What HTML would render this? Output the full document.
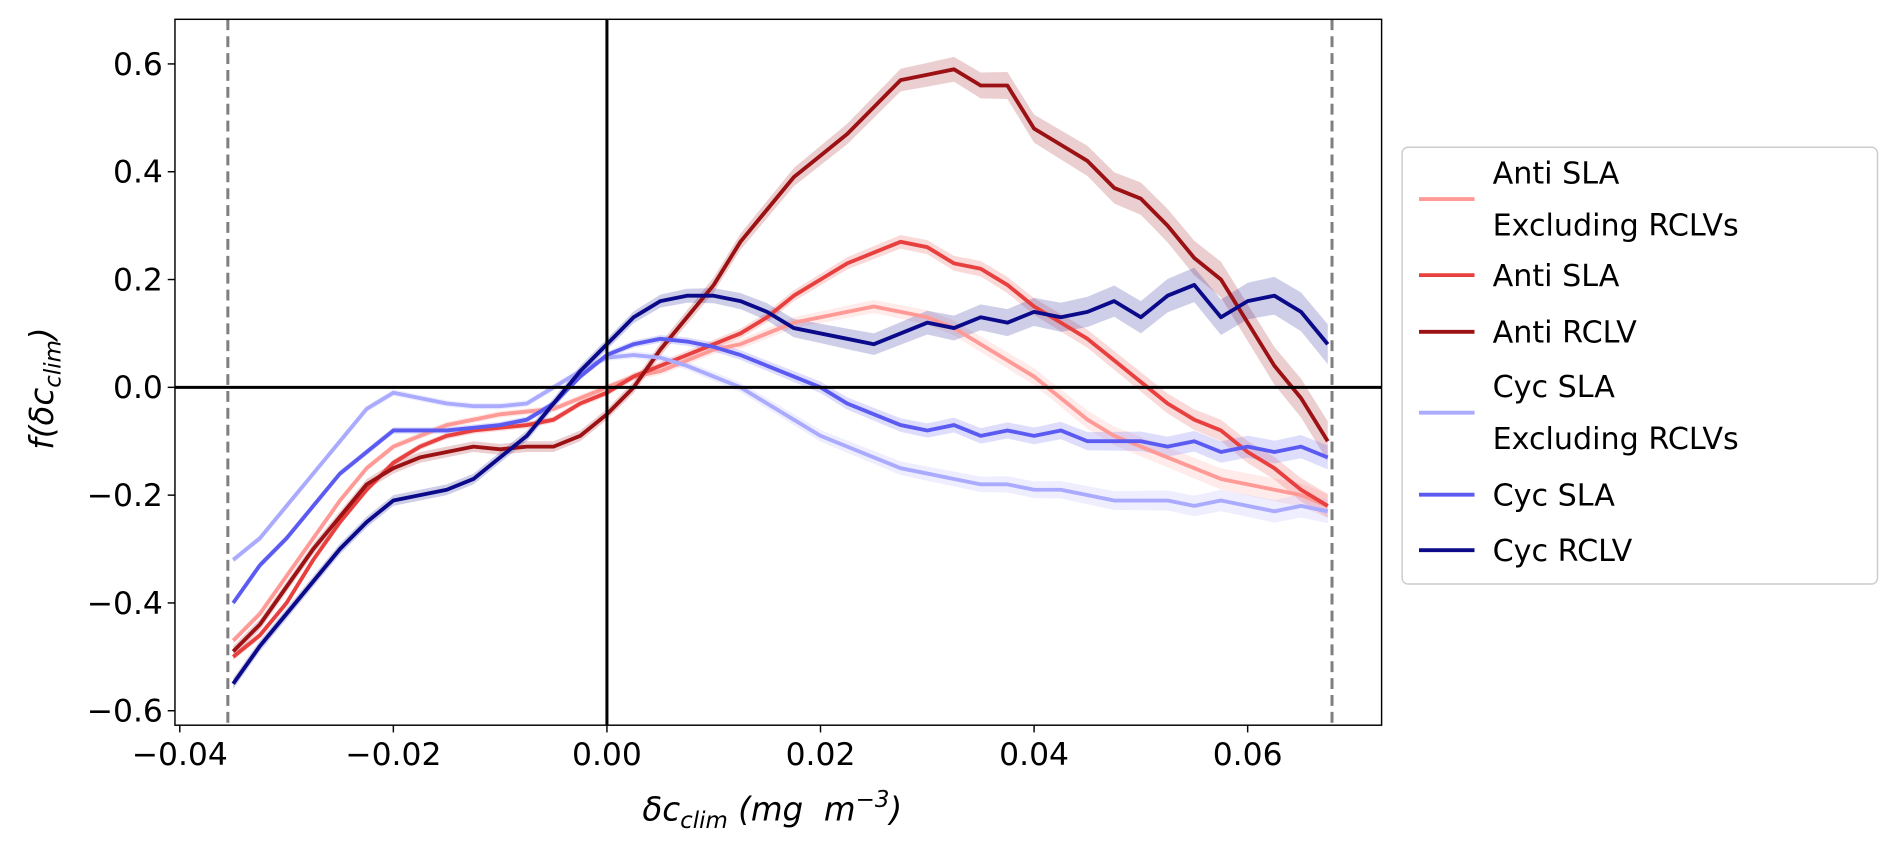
<!DOCTYPE html>
<html><head><meta charset="utf-8"><style>
html,body{margin:0;padding:0;background:#fff}
svg{display:block}
text{font-family:"DejaVu Sans","Liberation Sans",sans-serif;fill:#000}
</style></head><body>
<svg id="chart" width="1892" height="849" viewBox="0 0 1568 703.6" xmlns="http://www.w3.org/2000/svg">
<g id="bands"></g>
<g id="lines"></g>
<g id="axes"></g>
</svg>
<script>
const xs = [-0.035,-0.0325,-0.03,-0.0275,-0.025,-0.0225,-0.02,-0.0175,-0.015,-0.0125,-0.01,-0.0075,-0.005,-0.0025,0,0.0025,0.005,0.0075,0.01,0.0125,0.015,0.0175,0.02,0.0225,0.025,0.0275,0.03,0.0325,0.035,0.0375,0.04,0.0425,0.045,0.0475,0.05,0.0525,0.055,0.0575,0.06,0.0625,0.065,0.0675];
const antiSlaExcl = [-0.47,-0.42,-0.35,-0.28,-0.21,-0.15,-0.11,-0.09,-0.07,-0.06,-0.05,-0.045,-0.04,-0.02,0.0,0.02,0.03,0.05,0.07,0.08,0.10,0.12,0.13,0.14,0.15,0.14,0.13,0.11,0.08,0.05,0.02,-0.02,-0.06,-0.09,-0.11,-0.13,-0.15,-0.17,-0.18,-0.19,-0.20,-0.22];
const antiSla = [-0.50,-0.46,-0.40,-0.32,-0.25,-0.19,-0.14,-0.11,-0.09,-0.08,-0.075,-0.07,-0.06,-0.03,-0.01,0.02,0.04,0.06,0.08,0.10,0.13,0.17,0.20,0.23,0.25,0.27,0.26,0.23,0.22,0.19,0.15,0.12,0.09,0.05,0.01,-0.03,-0.06,-0.08,-0.12,-0.15,-0.19,-0.22];
const antiRclv = [-0.49,-0.44,-0.37,-0.30,-0.24,-0.18,-0.15,-0.13,-0.12,-0.11,-0.115,-0.11,-0.11,-0.09,-0.05,0.0,0.07,0.13,0.19,0.27,0.33,0.39,0.43,0.47,0.52,0.57,0.58,0.59,0.56,0.56,0.48,0.45,0.42,0.37,0.35,0.30,0.24,0.20,0.12,0.04,-0.02,-0.10];
const cycSlaExcl = [-0.32,-0.28,-0.22,-0.16,-0.10,-0.04,-0.01,-0.02,-0.03,-0.035,-0.035,-0.03,0.0,0.03,0.055,0.06,0.055,0.04,0.02,0.0,-0.03,-0.06,-0.09,-0.11,-0.13,-0.15,-0.16,-0.17,-0.18,-0.18,-0.19,-0.19,-0.20,-0.21,-0.21,-0.21,-0.22,-0.21,-0.22,-0.23,-0.22,-0.23];
const cycSla = [-0.40,-0.33,-0.28,-0.22,-0.16,-0.12,-0.08,-0.08,-0.08,-0.075,-0.07,-0.06,-0.03,0.02,0.06,0.08,0.09,0.085,0.075,0.06,0.04,0.02,0.0,-0.03,-0.05,-0.07,-0.08,-0.07,-0.09,-0.08,-0.09,-0.08,-0.10,-0.10,-0.10,-0.11,-0.10,-0.12,-0.11,-0.12,-0.11,-0.13];
const cycRclv = [-0.55,-0.48,-0.42,-0.36,-0.30,-0.25,-0.21,-0.20,-0.19,-0.17,-0.13,-0.09,-0.03,0.03,0.08,0.13,0.16,0.17,0.17,0.16,0.14,0.11,0.10,0.09,0.08,0.10,0.12,0.11,0.13,0.12,0.14,0.13,0.14,0.16,0.13,0.17,0.19,0.13,0.16,0.17,0.14,0.08];
const xTicks = [-0.04,-0.02,0.00,0.02,0.04,0.06];
const xTickLabels = ["\u22120.04","\u22120.02","0.00","0.02","0.04","0.06"];
const yTicks = [-0.6,-0.4,-0.2,0.0,0.2,0.4,0.6];
const yTickLabels = ["\u22120.6","\u22120.4","\u22120.2","0.0","0.2","0.4","0.6"];
const legendLabels = [["Anti SLA"," Excluding RCLVs"],["Anti SLA"],["Anti RCLV"],["Cyc SLA"," Excluding RCLVs"],["Cyc SLA"],["Cyc RCLV"]];

const NS="http://www.w3.org/2000/svg";
const L=145,R=1145,T=16,B=601;
function sx(v){return 503+v*8850;}
function sy(v){return 321-v*446.7;}
function mk(tag,attrs,parent){const e=document.createElementNS(NS,tag);for(const k in attrs)e.setAttribute(k,attrs[k]);parent.appendChild(e);return e;}
const bands=document.getElementById('bands'),lines=document.getElementById('lines'),axes=document.getElementById('axes');
const series=[
 {name:'anti-sla-excluding-rclvs',data:antiSlaExcl,color:'#ff9a96',bw:0.012},
 {name:'anti-sla',data:antiSla,color:'#e8403f',bw:0.012},
 {name:'anti-rclv',data:antiRclv,color:'#9b1114',bw:0.02},
 {name:'cyc-sla-excluding-rclvs',data:cycSlaExcl,color:'#aaaaff',bw:0.012},
 {name:'cyc-sla',data:cycSla,color:'#5b5bf2',bw:0.012},
 {name:'cyc-rclv',data:cycRclv,color:'#0a0a8a',bw:0.02}];
series.forEach(s=>{
  let up=[],dn=[];
  s.data.forEach((v,i)=>{const w=s.bw*(0.5+Math.max(0,xs[i])/0.05);up.push(sx(xs[i])+','+sy(v+w));dn.unshift(sx(xs[i])+','+sy(v-w));});
  const b=mk('polygon',{points:up.concat(dn).join(' '),fill:s.color,opacity:0.2},bands);
  
  
  const p=mk('polyline',{points:s.data.map((v,i)=>sx(xs[i])+','+sy(v)).join(' '),fill:'none',stroke:s.color,'stroke-width':3.2,'stroke-linejoin':'round'},lines);
  
  
});
const h0=mk('line',{x1:L,x2:R,y1:sy(0),y2:sy(0),stroke:'#000','stroke-width':2.5},axes);


const v0=mk('line',{x1:sx(0),x2:sx(0),y1:T,y2:B,stroke:'#000','stroke-width':2.5},axes);


[-0.0355,0.0679].forEach((v,i)=>{
  const d=mk('line',{x1:sx(v),x2:sx(v),y1:T,y2:B,stroke:'#7f7f7f','stroke-width':2.5,'stroke-dasharray':'9,5'},axes);
  
  
});
const frame=mk('rect',{x:L,y:T,width:R-L,height:B-T,fill:'none',stroke:'#000','stroke-width':1.2},axes);


xTicks.forEach((v,i)=>{
  const t=mk('line',{x1:sx(v),x2:sx(v),y1:B,y2:B+6,stroke:'#000','stroke-width':1.2},axes);
  
  
  const l=mk('text',{x:sx(v),y:B+33,'text-anchor':'middle','font-size':26},axes);
  l.textContent=xTickLabels[i];
  
  
});
yTicks.forEach((v,i)=>{
  const t=mk('line',{x1:L-6,x2:L,y1:sy(v),y2:sy(v),stroke:'#000','stroke-width':1.2},axes);
  
  
  const l=mk('text',{x:L-10,y:sy(v)+9,'text-anchor':'end','font-size':26},axes);
  l.textContent=yTickLabels[i];
  
  
});
const xt=mk('text',{x:640,y:680,'text-anchor':'middle','font-size':27,'font-style':'italic'},axes);
xt.innerHTML='δc<tspan font-size="19" dy="6">clim</tspan><tspan dy="-6" xml:space="preserve"> (mg  m</tspan><tspan font-size="19" dy="-11">−3</tspan><tspan dy="11">)</tspan>';


const yt=mk('text',{x:0,y:0,'text-anchor':'middle','font-size':27,'font-style':'italic',transform:'translate(44,322) rotate(-90)'},axes);
yt.innerHTML='f(δc<tspan font-size="19" dy="6">clim</tspan><tspan dy="-6">)</tspan>';


const lg=mk('g',{},axes);


mk('rect',{x:1162,y:122,width:394,height:362,rx:5,fill:'#fff',stroke:'#ccc','stroke-width':1.2},lg);
const lineYs=[165,228,275,342,410,456];
series.forEach((s,i)=>{
  const g=mk('g',{},lg);
  
  
  mk('line',{x1:1176,x2:1222,y1:lineYs[i],y2:lineYs[i],stroke:s.color,'stroke-width':3.2},g);
  const lbl=legendLabels[i];
  lbl.forEach((txt,j)=>{
    const y=lbl.length===2?lineYs[i]-13+j*43:lineYs[i]+9;
    const t=mk('text',{x:1237,y:y,'font-size':25,'xml:space':'preserve'},g);
    t.textContent=txt;
  });
});
</script>
</body></html>
